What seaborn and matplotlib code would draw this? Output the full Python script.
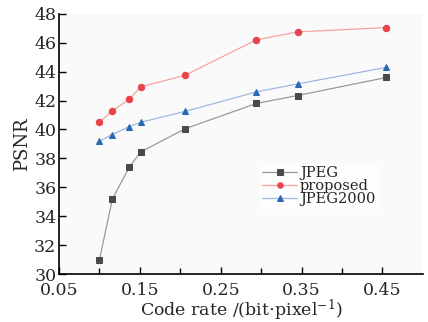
import matplotlib
matplotlib.use("Agg")
import matplotlib.pyplot as plt
import pandas as pd
import seaborn as sns

# dados
taxa = [0.100, 0.116, 0.137, 0.151, 0.206, 0.294, 0.345, 0.455]
jpeg = [31.0, 35.2, 37.4, 38.45, 40.05, 41.8, 42.35, 43.6]
proposto = [40.5, 41.3, 42.1, 42.95, 43.75, 46.2, 46.75, 47.05]
jpeg2000 = [39.2, 39.65, 40.2, 40.5, 41.25, 42.6, 43.15, 44.3]

series = ["JPEG", "proposed", "JPEG2000"]
valores = [jpeg, proposto, jpeg2000]

sns.set_style("ticks")
plt.rcParams["font.family"] = ["DejaVu Serif"]
plt.rcParams["mathtext.fontset"] = "dejavuserif"

fig = plt.figure(figsize=(4.28, 3.22), dpi=100)
ax = fig.add_axes([0.138, 0.149, 0.850, 0.808])
ax.set_facecolor("#fafafa")

# estilo de cada série: cor da linha, cor do marcador, marcador
estilos = {
    "JPEG": ("#9a9a9a", "#4a4a4a", "s"),
    "proposed": ("#f5a3a3", "#e8424b", "o"),
    "JPEG2000": ("#9fb7e0", "#2a68b5", "^"),
}

for nome, v in zip(series, valores):
    df = pd.DataFrame({"rate": taxa, "psnr": v})
    cl, cm, mk = estilos[nome]
    sns.lineplot(data=df, x="rate", y="psnr", ax=ax, color=cl, lw=0.9,
                 marker=mk, markersize=4.6, markerfacecolor=cm,
                 markeredgecolor=cm, label=nome)

ax.set_xlim(0.05, 0.5)
ax.set_ylim(30, 48)
ax.set_xticks([0.05, 0.15, 0.25, 0.35, 0.45])
ax.set_xticks([0.10, 0.20, 0.30, 0.40], minor=True)
ax.set_yticks(range(30, 49, 2))
ax.tick_params(axis="both", which="both", direction="in", labelsize=12.5,
               color="black")
ax.tick_params(axis="x", pad=6)
ax.tick_params(axis="y", pad=2)
ax.tick_params(which="major", length=5, width=1)
ax.tick_params(which="minor", length=4, width=1)
for lado in ["left", "bottom"]:
    ax.spines[lado].set_color("black")
    ax.spines[lado].set_linewidth(1.2)
sns.despine(ax=ax)

ax.set_xlabel("Code rate /(bit$\\cdot$pixel$^{-1}$)", fontsize=12.5, labelpad=-1)
ax.set_ylabel("PSNR", fontsize=13, labelpad=2)

leg = ax.legend(loc="upper left", bbox_to_anchor=(0.53, 0.455), frameon=True,
                fontsize=10.5, handlelength=2.4, handletextpad=0.2,
                labelspacing=-0.05, borderpad=0.2, fancybox=False,
                markerscale=0.85)
leg.get_frame().set_edgecolor("none")
leg.get_frame().set_facecolor("white")

fig.savefig("out.png", dpi=100)
